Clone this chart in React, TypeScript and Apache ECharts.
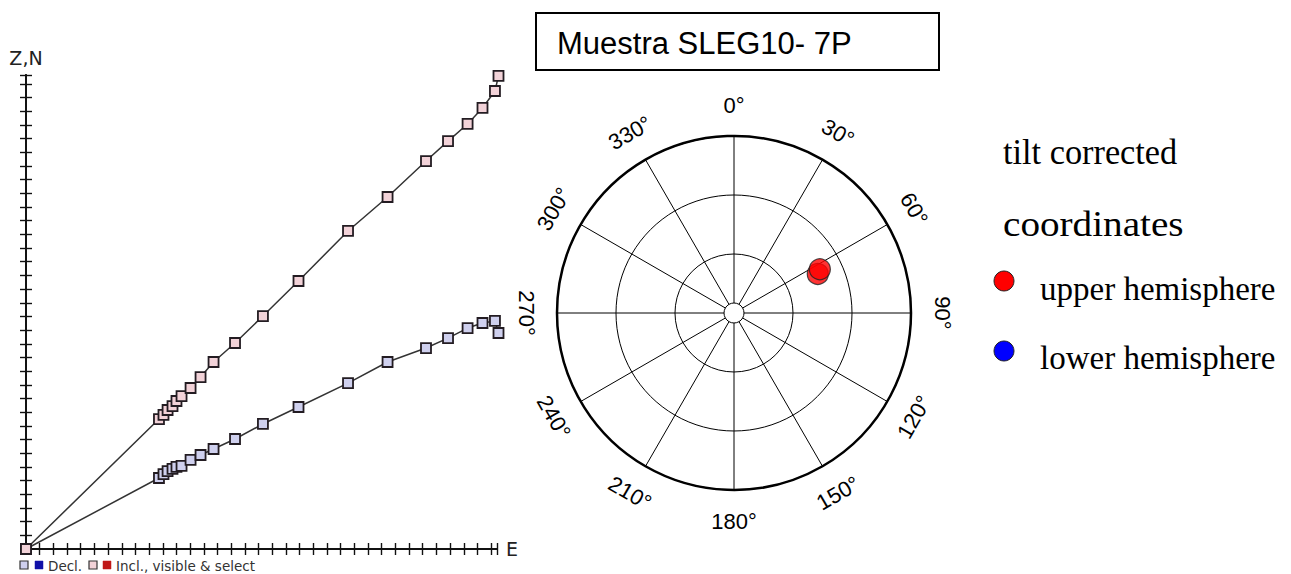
import React, { useEffect, useRef } from "react";
import * as echarts from "echarts";

// ---- Zijderveld diagram data (units = one tick) ----
const eastComponent = [0, 9.72, 10.05, 10.35, 10.71, 11.0, 11.37, 12.03, 12.76, 13.71, 15.28, 17.32, 19.92, 23.54, 26.43, 29.24, 30.85, 32.28, 33.37, 34.28, 34.54];
const northComponent = [0, 5.19, 5.48, 5.7, 5.85, 6.0, 6.07, 6.51, 6.87, 7.31, 8.04, 9.14, 10.38, 12.13, 13.67, 14.69, 15.42, 16.15, 16.52, 16.67, 15.79];
const upComponent = [0, 9.5, 9.8, 10.16, 10.45, 10.82, 11.18, 11.77, 12.57, 13.67, 15.06, 17.03, 19.59, 23.25, 25.73, 28.36, 29.82, 31.07, 32.24, 33.48, 34.58];

// ---- Stereonet data ----
const sampleDeclination = [65, 63];
const sampleInclination = [43, 41];
const angleTicks = [0, 30, 60, 90, 120, 150, 180, 210, 240, 270, 300, 330];

const legendLeft = ["Decl.", "Incl., visible & select"];
const legendRight = ["tilt corrected", "coordinates", "upper hemisphere", "lower hemisphere"];
const titleText = "Muestra SLEG10- 7P";

export default function App() {
  const ref = useRef<HTMLDivElement>(null);
  useEffect(() => {
    if (!ref.current) return;
    const chart = echarts.init(ref.current, null, { renderer: "svg" });

    const CX = 734, CY = 313, R = 177, LR = 208;
    const labelEls = angleTicks.map((a) => {
      const rad = (a * Math.PI) / 180;
      const x = CX + LR * Math.sin(rad);
      const y = CY - LR * Math.cos(rad);
      const rot = a > 90 && a < 270 ? a - 180 : a > 270 ? a - 360 : a === 270 ? 90 : a;
      return {
        type: "text",
        x,
        y,
        rotation: (-rot * Math.PI) / 180,
        z: 10,
        style: {
          text: `${a}°`,
          font: '22px "Liberation Sans"',
          fill: "#000",
          textAlign: "center",
          textVerticalAlign: "middle",
        },
      };
    });

    const declData = eastComponent.map((e, i) => [e, northComponent[i]]);
    const inclData = eastComponent.map((e, i) => [e, upComponent[i]]);
    const stereoData = sampleDeclination.map((d, i) => [90 - sampleInclination[i], d]);

    const axisCommon = {
      type: "value",
      min: 0,
      interval: 1,
      axisLabel: { show: false },
      splitLine: { show: false },
      axisLine: { show: true, onZero: false, lineStyle: { color: "#111", width: 1.8 } },
    };
    const tickStyle = { color: "#111", width: 1.4 };

    const mk = (fill: string) => ({
      color: fill,
      borderColor: "#231c22",
      borderWidth: 1.8,
    });

    const serifText = (text: string, x: number, y: number, size: number, scaleX: number) => ({
      type: "text",
      x,
      y,
      scaleX,
      z: 6,
      style: { text, font: `${size}px "Liberation Serif"`, fill: "#000", textAlign: "left", textVerticalAlign: "middle" },
    });

    chart.setOption({
      animation: false,
      backgroundColor: "#fff",
      grid: [{ left: 26, right: 794, top: 75, bottom: 25 }],
      xAxis: [
        {
          ...axisCommon,
          max: 34.43,
          position: "bottom",
          axisTick: { show: true, inside: false, length: 6, lineStyle: tickStyle },
          name: "E",
          nameLocation: "end",
          nameGap: 9,
          nameTextStyle: { fontFamily: "DejaVu Sans", fontSize: 19, color: "#222", verticalAlign: "middle" },
        },
        {
          ...axisCommon,
          max: 34.43,
          position: "bottom",
          offset: 0,
          axisTick: { show: true, inside: true, length: 6, lineStyle: tickStyle },
        },
      ],
      yAxis: [
        {
          ...axisCommon,
          max: 34.65,
          position: "left",
          axisTick: { show: true, inside: false, length: 6, lineStyle: tickStyle },
          name: "Z,N",
          nameLocation: "end",
          nameGap: 8,
          nameTextStyle: { fontFamily: "DejaVu Sans", fontSize: 19, color: "#222", align: "center" },
        },
        {
          ...axisCommon,
          max: 34.65,
          position: "left",
          offset: 0,
          axisTick: { show: true, inside: true, length: 6, lineStyle: tickStyle },
        },
      ],
      polar: { center: [CX, CY], radius: R },
      angleAxis: {
        type: "value",
        min: 0,
        max: 360,
        interval: 30,
        startAngle: 90,
        clockwise: true,
        axisLine: { show: true, lineStyle: { color: "#000", width: 2.5 } },
        axisTick: { show: false },
        axisLabel: { show: false },
        splitLine: { show: true, lineStyle: { color: "#000", width: 1 } },
      },
      radiusAxis: {
        type: "value",
        min: 0,
        max: 90,
        interval: 30,
        axisLine: { show: false },
        axisTick: { show: false },
        axisLabel: { show: false },
        splitLine: { show: true, lineStyle: { color: "#000", width: 1 } },
      },
      series: [
        {
          type: "line",
          name: "Decl.",
          xAxisIndex: 0,
          yAxisIndex: 0,
          data: declData,
          symbol: "rect",
          symbolSize: 10,
          clip: false,
          lineStyle: { color: "#333", width: 1.5 },
          itemStyle: mk("#cfd0ee"),
          z: 3,
        },
        {
          type: "line",
          name: "Incl.",
          xAxisIndex: 0,
          yAxisIndex: 0,
          data: inclData,
          symbol: "rect",
          symbolSize: 10,
          clip: false,
          lineStyle: { color: "#333", width: 1.5 },
          itemStyle: mk("#f2d2d8"),
          z: 4,
        },
        {
          type: "scatter",
          coordinateSystem: "polar",
          data: stereoData,
          symbol: "circle",
          symbolSize: 21,
          itemStyle: { color: "#ff0000", borderColor: "#222", borderWidth: 1.2 },
          z: 6,
        },
      ],
      graphic: [
        { type: "circle", shape: { cx: CX, cy: CY, r: 10 }, style: { fill: "#fff", stroke: "#000", lineWidth: 1 }, z: 5 },
        ...labelEls,
        { type: "rect", shape: { x: 536, y: 13, width: 403, height: 57 }, style: { fill: "#fff", stroke: "#000", lineWidth: 2 }, z: 5 },
        {
          type: "text", x: 557, y: 43, z: 6,
          style: { text: titleText, font: '31px "Liberation Sans"', fill: "#000", textAlign: "left", textVerticalAlign: "middle" },
        },
        serifText(legendRight[0], 1003, 152, 35, 0.98),
        serifText(legendRight[1], 1003, 224, 35, 1.12),
        { type: "circle", shape: { cx: 1004, cy: 281, r: 10 }, style: { fill: "#ff0000", stroke: "#222", lineWidth: 1 }, z: 6 },
        serifText(legendRight[2], 1040, 289, 33, 1),
        { type: "circle", shape: { cx: 1004, cy: 351, r: 10 }, style: { fill: "#0000ff", stroke: "#222", lineWidth: 1 }, z: 6 },
        serifText(legendRight[3], 1040, 358, 33, 1),
        { type: "rect", shape: { x: 20, y: 561, width: 8, height: 8 }, style: { fill: "#cfd0ee", stroke: "#333", lineWidth: 1.2 }, z: 6 },
        { type: "rect", shape: { x: 35, y: 561, width: 8, height: 8 }, style: { fill: "#1010a8", stroke: "#1010a8", lineWidth: 0.5 }, z: 6 },
        {
          type: "text", x: 48, y: 566, z: 6,
          style: { text: legendLeft[0], font: '13.5px "DejaVu Sans"', fill: "#333", textAlign: "left", textVerticalAlign: "middle" },
        },
        { type: "rect", shape: { x: 89, y: 561, width: 8, height: 8 }, style: { fill: "#f2d2d8", stroke: "#333", lineWidth: 1.2 }, z: 6 },
        { type: "rect", shape: { x: 103, y: 561, width: 8, height: 8 }, style: { fill: "#c01818", stroke: "#c01818", lineWidth: 0.5 }, z: 6 },
        {
          type: "text", x: 116, y: 566, z: 6,
          style: { text: legendLeft[1], font: '13.5px "DejaVu Sans"', fill: "#333", textAlign: "left", textVerticalAlign: "middle" },
        },
      ],
    });
    return () => chart.dispose();
  }, []);
  return <div ref={ref} style={{ position: "absolute", left: 0, top: 0, width: 1291, height: 574 }} />;
}
